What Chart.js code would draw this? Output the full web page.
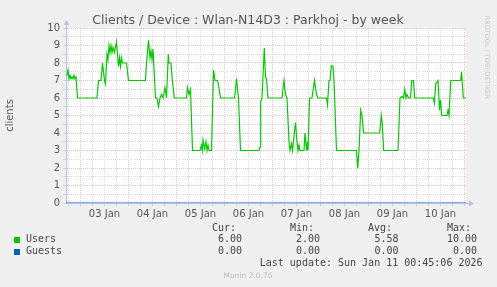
<!DOCTYPE html>
<html>
<head>
<meta charset="utf-8">
<script src="https://cdn.jsdelivr.net/npm/chart.js@4.4.0/dist/chart.umd.min.js"></script>
<style>
  body { margin: 0; background: #f0f0f0; }
  canvas { display: block; }
</style>
</head>
<body>
<canvas id="chart" width="497" height="287"></canvas>
<script>
// hours relative to 03 Jan 00:00
const hours = [
  -7.25, -6.75, -6.25, -5.75, -5.25, -4.75, -4.25, -3.75, -3.25, -2.75, -2.25, -1.5,
  8.25, 9.0, 10.25, 11.0, 12.0, 12.5, 13.25, 13.75, 14.25, 14.75, 15.25, 15.75, 16.25, 17.0,
  18.0, 18.5, 19.0, 19.5, 20.0, 20.5, 21.0, 23.0, 24.0,
  32.5, 33.0, 34.0, 34.75, 35.25, 35.75, 36.25, 37.5, 38.25, 39.0, 39.75, 40.5, 41.25,
  42.25, 43.0, 43.9, 44.25, 45.25, 46.0, 46.9,
  53.0, 53.5, 54.25, 55.0, 56.0, 59.75, 60.5, 60.9, 61.25, 62.0, 62.75, 63.25, 63.75, 64.25,
  65.5, 66.5, 67.25, 68.5, 69.25, 70.0,
  77.0, 77.5, 78.0, 78.5, 79.0, 80.0, 89.25, 89.75, 90.1, 90.75, 91.9, 92.5, 93.0, 93.75,
  100.75, 101.25, 101.75, 102.5, 103.25, 104.25, 104.75, 105.5, 106.0, 107.5, 108.25, 108.75,
  109.25, 109.75, 111.75, 112.25, 113.0, 113.5, 113.75, 114.5, 115.75, 117.0, 118.0, 118.75,
  123.0, 123.5, 124.25, 124.75, 125.4, 126.25, 126.75, 128.0, 138.0, 138.6, 139.25, 140.1,
  140.75, 141.6, 149.6, 150.4, 150.9, 151.6, 158.75, 159.75, 160.75, 161.5, 162.1, 162.75,
  163.25, 164.1, 165.0, 165.6, 166.5, 167.1, 176.4, 176.9, 177.6, 178.75, 179.5, 180.0, 180.6,
  183.25, 183.75, 184.25, 185.1, 190.1, 190.5, 191.4, 192.75
];
const users = [
  7.3, 7.3, 7.6, 7.1, 7.3, 7.1, 7.2, 7.1, 7.3, 7.1, 7.2, 6.0,
  6.0, 7.0, 7.0, 8.0, 7.0, 6.8, 8.5, 8.2, 9.0, 8.6, 9.0, 8.6, 8.9, 8.6,
  9.2, 8.5, 7.8, 8.3, 7.8, 8.3, 8.0, 8.0, 7.0,
  7.0, 8.0, 9.3, 8.3, 8.7, 8.2, 8.8, 6.0, 6.0, 5.5, 6.0, 6.2, 6.0,
  6.6, 6.0, 8.5, 8.0, 8.0, 6.9, 6.0,
  6.0, 6.6, 6.2, 6.5, 3.0, 3.0, 3.3, 3.0, 3.6, 3.1, 3.5, 3.0, 3.3, 3.0,
  3.0, 7.6, 7.0, 7.0, 6.6, 6.0,
  6.0, 6.5, 7.1, 6.5, 6.0, 3.0, 3.0, 3.2, 5.8, 6.0, 8.85, 7.2, 7.1, 6.0,
  6.0, 6.5, 7.0, 6.2, 6.0, 3.5, 3.0, 3.4, 3.0, 4.6, 3.5, 3.0,
  3.3, 3.0, 3.0, 4.0, 3.0, 3.5, 3.0, 6.0, 6.0, 7.0, 6.2, 6.0,
  6.0, 5.6, 7.0, 7.0, 7.85, 7.8, 7.0, 3.0, 3.0, 2.0, 3.0, 5.3,
  5.0, 4.0, 4.0, 5.0, 4.5, 3.0, 3.0, 6.0, 6.1, 6.0, 6.5, 6.0,
  6.2, 6.0, 6.0, 7.0, 7.0, 6.0, 6.0, 5.7, 6.8, 7.0, 5.3, 5.9, 5.0,
  5.0, 5.3, 5.0, 7.0, 7.0, 7.5, 6.0, 6.0
];
const guests = hours.map(() => 0);

const dayLabels = ['03 Jan', '04 Jan', '05 Jan', '06 Jan', '07 Jan', '08 Jan', '09 Jan', '10 Jan'];
const yTicks = [0, 0.5, 1, 1.5, 2, 2.5, 3, 3.5, 4, 4.5, 5, 5.5, 6, 6.5, 7, 7.5, 8, 8.5, 9, 9.5, 10];
const xTicks = [-6, 0, 6, 12, 18, 24, 30, 36, 42, 48, 54, 60, 66, 72, 78, 84, 90, 96, 102, 108,
  114, 120, 126, 132, 138, 144, 150, 156, 162, 168, 174, 180, 186, 192];

const legendRows = [
  { name: 'Users', color: '#00cc00', cur: '6.00', min: '2.00', avg: '5.58', max: '10.00' },
  { name: 'Guests', color: '#0066b3', cur: '0.00', min: '0.00', avg: '0.00', max: '0.00' }
];

const MAJOR = 'rgba(240, 110, 110, 0.45)';
const MINOR = 'rgba(160, 160, 160, 0.38)';
const AXIS = '#b8bef0';

const munin = {
  id: 'munin',
  beforeDraw(chart) {
    const ctx = chart.ctx, a = chart.chartArea;
    ctx.save();
    ctx.fillStyle = '#f0f0f0';
    ctx.fillRect(0, 0, chart.width, chart.height);
    ctx.fillStyle = '#ffffff';
    ctx.fillRect(a.left, a.top, a.right - a.left, a.bottom - a.top);
    ctx.restore();
  },
  afterDraw(chart) {
    const ctx = chart.ctx, a = chart.chartArea;
    ctx.save();
    // axis extensions + arrows
    ctx.strokeStyle = AXIS;
    ctx.fillStyle = AXIS;
    ctx.lineWidth = 1;
    ctx.beginPath();
    ctx.moveTo(a.left + 0.5, a.top);
    ctx.lineTo(a.left + 0.5, a.top - 4);
    ctx.moveTo(a.right, a.bottom + 0.5);
    ctx.lineTo(a.right + 4, a.bottom + 0.5);
    ctx.stroke();
    ctx.beginPath();
    ctx.moveTo(a.left - 2.5, a.top - 3);
    ctx.lineTo(a.left + 3.5, a.top - 3);
    ctx.lineTo(a.left + 0.5, a.top - 8);
    ctx.fill();
    ctx.beginPath();
    ctx.moveTo(a.right + 3, a.bottom - 2.5);
    ctx.lineTo(a.right + 3, a.bottom + 3.5);
    ctx.lineTo(a.right + 8, a.bottom + 0.5);
    ctx.fill();

    // title
    ctx.fillStyle = '#555';
    ctx.font = '12.5px "DejaVu Sans"';
    ctx.textAlign = 'center';
    ctx.textBaseline = 'alphabetic';
    ctx.fillText('Clients / Device : Wlan-N14D3 : Parkhoj - by week', 248, 24);

    // legend
    ctx.font = '10px "DejaVu Sans Mono"';
    ctx.textBaseline = 'middle';
    ctx.fillStyle = '#444';
    ctx.textAlign = 'right';
    ctx.fillText('Cur:', 236, 228);
    ctx.fillText('Min:', 314, 228);
    ctx.fillText('Avg:', 392, 228);
    ctx.fillText('Max:', 471, 228);
    legendRows.forEach((r, i) => {
      const y = 239.5 + i * 12.3;
      ctx.fillStyle = r.color;
      ctx.fillRect(14, Math.round(y) - 3, 6, 6);
      ctx.fillStyle = '#444';
      ctx.textAlign = 'left';
      ctx.fillText(r.name, 26, y);
      ctx.textAlign = 'right';
      ctx.fillText(r.cur, 242, y);
      ctx.fillText(r.min, 320, y);
      ctx.fillText(r.avg, 398.5, y);
      ctx.fillText(r.max, 477, y);
    });
    ctx.fillText('Last update: Sun Jan 11 00:45:06 2026', 482.5, 263.5);

    ctx.font = '7.5px "DejaVu Sans"';
    ctx.fillStyle = '#bbb';
    ctx.textAlign = 'center';
    ctx.fillText('Munin 2.0.76', 248, 276.5);

    ctx.translate(487, 57.5);
    ctx.rotate(Math.PI / 2);
    ctx.font = '6.5px "DejaVu Sans"';
    ctx.fillStyle = '#c8c8c8';
    ctx.fillText('RRDTOOL / TOBI OETIKER', 0, 0);
    ctx.restore();
  }
};

new Chart(document.getElementById('chart'), {
  type: 'line',
  data: {
    datasets: [
      {
        label: 'Guests',
        data: hours.map((h, i) => ({ x: h, y: guests[i] })),
        borderColor: '#0066b3',
        borderWidth: 1,
        pointRadius: 0
      },
      {
        label: 'Users',
        data: hours.map((h, i) => ({ x: h, y: users[i] })),
        borderColor: '#00cc00',
        borderWidth: 1.2,
        pointRadius: 0,
        tension: 0
      }
    ]
  },
  options: {
    responsive: false,
    animation: false,
    layout: { padding: { top: 28, right: 31, bottom: 64, left: 0 } },
    plugins: {
      legend: { display: false },
      tooltip: { enabled: false }
    },
    scales: {
      x: {
        type: 'linear',
        min: -7.25,
        max: 192.75,
        afterBuildTicks: s => { s.ticks = xTicks.map(v => ({ value: v })); },
        afterFit: s => { s.height = 20; },
        ticks: {
          autoSkip: false,
          maxRotation: 0,
          padding: 2,
          color: '#555',
          font: { family: 'DejaVu Sans', size: 10 },
          callback: v => (v % 24 === 12 ? dayLabels[(v - 12) / 24] : '')
        },
        grid: {
          color: c => (c.tick && c.tick.value % 24 === 0 ? MAJOR : MINOR),
          tickColor: c => (c.tick && c.tick.value % 24 === 0 ? MAJOR : MINOR),
          tickLength: 3,
          tickBorderDash: []
        },
        border: { color: AXIS, width: 1, dash: [1, 1] }
      },
      y: {
        min: 0,
        max: 10,
        afterBuildTicks: s => { s.ticks = yTicks.map(v => ({ value: v })); },
        afterFit: s => { s.width = 66; },
        title: {
          display: true,
          text: 'clients',
          color: '#555',
          font: { family: 'DejaVu Sans', size: 10 },
          padding: { top: 4 }
        },
        ticks: {
          autoSkip: false,
          padding: 3,
          color: '#555',
          font: { family: 'DejaVu Sans', size: 10 },
          callback: v => (v % 1 === 0 ? String(v) : '')
        },
        grid: {
          color: c => (c.tick && c.tick.value % 1 === 0 ? MAJOR : MINOR),
          tickColor: MINOR,
          tickLength: 3,
          tickBorderDash: []
        },
        border: { color: AXIS, width: 1, dash: [1, 1] }
      }
    }
  },
  plugins: [munin]
});
</script>
</body>
</html>
